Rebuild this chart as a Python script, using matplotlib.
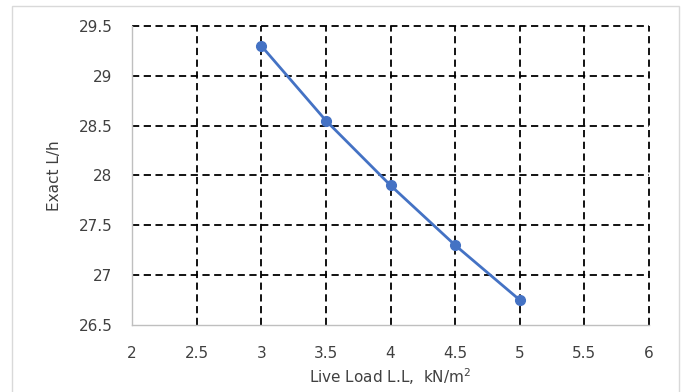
import matplotlib.pyplot as plt
from matplotlib.patches import Rectangle

# Data
live_load = [3, 3.5, 4, 4.5, 5]
exact_lh = [29.3, 28.55, 27.9, 27.3, 26.75]
x_ticks = [2, 2.5, 3, 3.5, 4, 4.5, 5, 5.5, 6]
y_ticks = [26.5, 27, 27.5, 28, 28.5, 29, 29.5]

plt.rcParams['font.family'] = ['DejaVu Sans']

fig = plt.figure(figsize=(6.83, 3.92), dpi=100)
ax = fig.add_axes([0.1933, 0.171, 0.757, 0.763])

# outer chart border (bottom edge falls outside the image)
fig.patches.append(Rectangle((12 / 683, -4 / 392), 667 / 683, 390 / 392,
                             transform=fig.transFigure, fill=False,
                             edgecolor='#d9d9d9', linewidth=1))

ax.plot(live_load, exact_lh, color='#4472C4', linewidth=2, marker='o',
        markersize=7, zorder=3)

ax.set_xlim(2, 6)
ax.set_ylim(26.5, 29.5)
ax.set_xticks(x_ticks)
ax.set_yticks(y_ticks)
ax.set_xticklabels([f'{v:g}' for v in x_ticks])
ax.set_yticklabels([f'{v:g}' for v in y_ticks])
ax.tick_params(length=0, labelsize=11, labelcolor='#404040')
ax.tick_params(axis='x', pad=15)
ax.tick_params(axis='y', pad=14)

ax.grid(True, color='black', linestyle=(0, (4, 2.5)), linewidth=1.3)
ax.set_axisbelow(True)
xgrid = ax.get_xgridlines()
ygrid = ax.get_ygridlines()
# first gridlines sit under the grey spines, hide them
xgrid[0].set_visible(False)
ygrid[0].set_visible(False)
# keep the outer (top/right) gridlines at full width
xgrid[-1].set_clip_on(False)
ygrid[-1].set_clip_on(False)
for side in ['top', 'right']:
    ax.spines[side].set_visible(False)
for side in ['left', 'bottom']:
    ax.spines[side].set_color('#bfbfbf')
    ax.spines[side].set_linewidth(1)

ax.set_xlabel('Live Load L.L,  kN/m$^2$', fontsize=11, color='#404040', labelpad=4)
ax.set_ylabel('Exact L/h', fontsize=11, color='#404040', labelpad=12)

fig.savefig('out.png', dpi=100)
